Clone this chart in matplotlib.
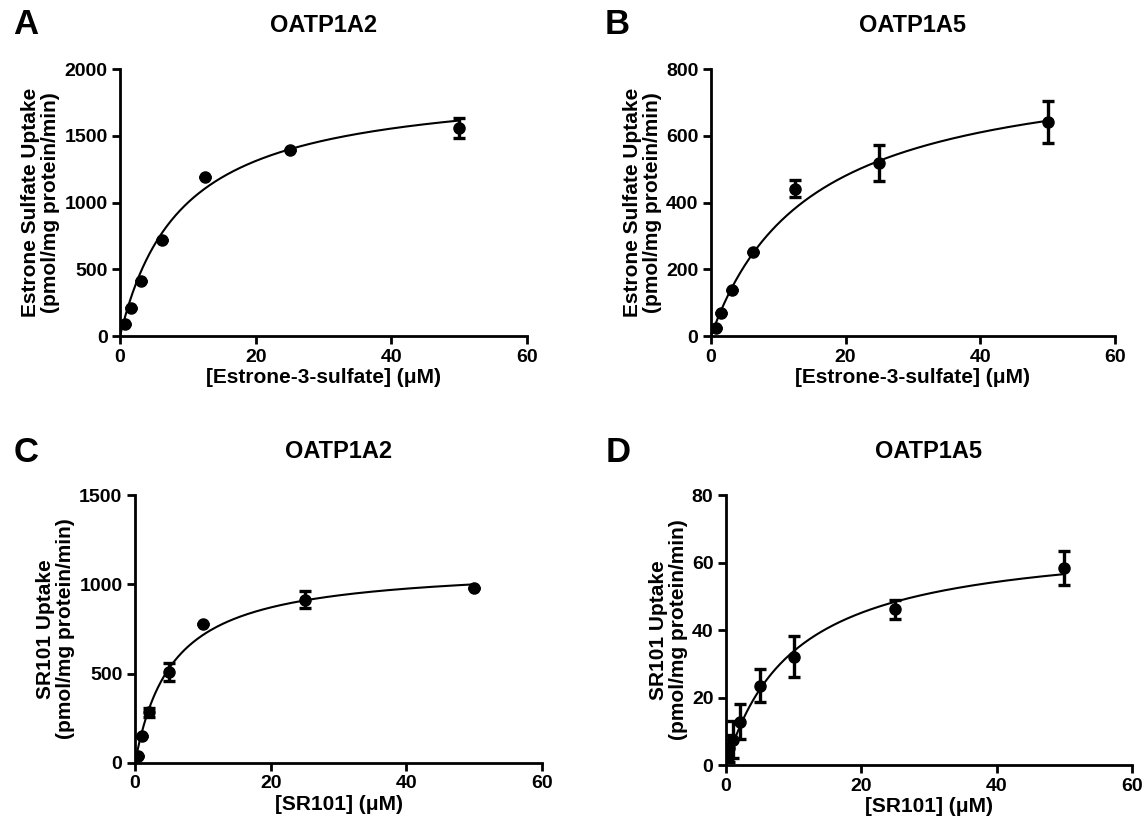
import numpy as np
import matplotlib
matplotlib.use('Agg')
import matplotlib.pyplot as plt

plt.rcParams['font.family'] = ['Liberation Sans', 'DejaVu Sans']
plt.rcParams['font.weight'] = 'bold'

# Panel A: OATP1A2, estrone sulfate
es_conc = [0.78, 1.56, 3.125, 6.25, 12.5, 25, 50]
a_uptake = [87, 211, 410, 716, 1188, 1396, 1558]
a_err = [0, 0, 0, 0, 0, 0, 73]
a_km, a_vmax = 9.1, 1908

# Panel B: OATP1A5, estrone sulfate
b_uptake = [25, 68, 137, 251, 442, 519, 641]
b_err = [0, 0, 0, 0, 25, 53, 64]
b_km, b_vmax = 14.8, 836

# Panel C: OATP1A2, SR101
sr_conc_c = [0.5, 1, 2, 5, 10, 25, 50]
c_uptake = [40, 152, 285, 510, 778, 915, 978]
c_err = [0, 0, 25, 50, 0, 50, 0]
c_km, c_vmax = 5.5, 1110

# Panel D: OATP1A5, SR101
sr_conc_d = [0.25, 0.5, 1, 2, 5, 10, 25, 50]
d_uptake = [3.5, 5.0, 7.5, 12.8, 23.5, 32.1, 46.1, 58.3]
d_err = [2.0, 4.0, 5.5, 5.2, 4.8, 6.0, 2.8, 5.0]
d_km, d_vmax = 10.2, 68.1

panels = [
    ('A', 'OATP1A2', es_conc, a_uptake, a_err, a_km, a_vmax, 2000, 500,
     'Estrone Sulfate Uptake', '[Estrone-3-sulfate] (\u03bcM)',
     [0.1049, 0.5995, 0.3558, 0.3182], (-0.231, 1.165)),
    ('B', 'OATP1A5', es_conc, b_uptake, b_err, b_km, b_vmax, 800, 200,
     'Estrone Sulfate Uptake', '[Estrone-3-sulfate] (\u03bcM)',
     [0.6215, 0.5995, 0.3530, 0.3182], (-0.233, 1.165)),
    ('C', 'OATP1A2', sr_conc_c, c_uptake, c_err, c_km, c_vmax, 1500, 500,
     'SR101 Uptake', '[SR101] (\u03bcM)',
     [0.1180, 0.0906, 0.3558, 0.3194], (-0.267, 1.157)),
    ('D', 'OATP1A5', sr_conc_d, d_uptake, d_err, d_km, d_vmax, 80, 20,
     'SR101 Uptake', '[SR101] (\u03bcM)',
     [0.6346, 0.0882, 0.3549, 0.3218], (-0.266, 1.157)),
]

fig = plt.figure(figsize=(11.44, 8.39), dpi=100)

for letter, title, x, y, err, km, vmax, ytop, ystep, ylab, xlab, pos, lpos in panels:
    ax = fig.add_axes(pos)
    xs = np.linspace(0, 50, 300)
    ax.plot(xs, vmax * xs / (km + xs), color='black', lw=1.5, zorder=2)
    ax.errorbar(x, y, yerr=err, fmt='o', color='black', ms=8,
                elinewidth=2.4, capsize=4.5, capthick=2.4, zorder=3)
    ax.set_xlim(0, 60)
    ax.set_ylim(0, ytop)
    ax.set_xticks([0, 20, 40, 60])
    ax.set_yticks(np.arange(0, ytop + 1, ystep))
    for s in ['top', 'right']:
        ax.spines[s].set_visible(False)
    for s in ['left', 'bottom']:
        ax.spines[s].set_linewidth(2)
    ax.tick_params(width=2, length=6, labelsize=14, pad=3)
    for lab in ax.get_xticklabels() + ax.get_yticklabels():
        lab.set_fontweight('bold')
    ax.set_xlabel(xlab, fontsize=15, fontweight='bold', labelpad=2)
    ax.set_ylabel(ylab + '\n(pmol/mg protein/min)', fontsize=15,
                  fontweight='bold', labelpad=3, linespacing=1.05)
    ax.set_title(title, fontsize=17, fontweight='bold', pad=27)
    ax.text(lpos[0], lpos[1], letter, transform=ax.transAxes, fontsize=25,
            fontweight='bold', ha='center', va='center')

fig.savefig('out.png', dpi=100)
